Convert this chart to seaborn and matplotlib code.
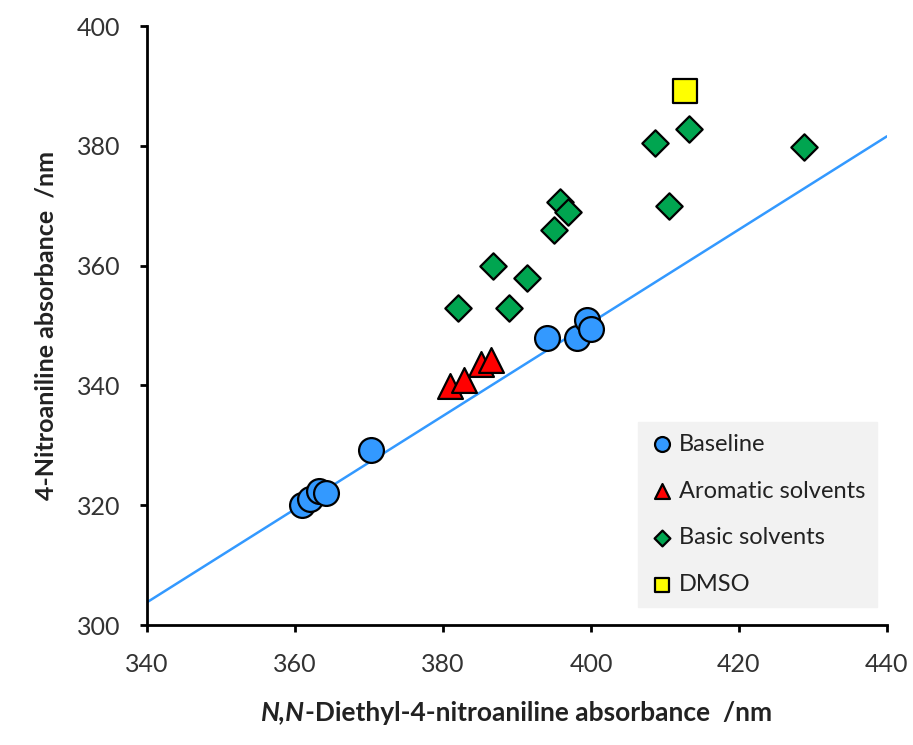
import matplotlib
matplotlib.use("Agg")
import matplotlib.pyplot as plt
import seaborn as sns
import pandas as pd
from matplotlib.offsetbox import TextArea, HPacker, AnchoredOffsetbox

# Data
baseline_x = [361.0, 362.0, 363.3, 364.2, 370.3, 394.1, 398.1, 399.5, 400.0]
baseline_y = [320.0, 321.0, 322.3, 322.0, 329.2, 347.9, 347.9, 350.9, 349.4]
aromatic_x = [381.0, 382.8, 385.1, 386.5]
aromatic_y = [339.9, 340.9, 343.6, 344.2]
basic_x = [382.0, 386.8, 388.9, 391.4, 395.0, 395.8, 396.9, 408.6, 410.5, 413.2, 428.8]
basic_y = [352.9, 359.9, 352.9, 357.9, 365.9, 370.6, 369.0, 380.5, 369.9, 382.8, 379.8]
dmso_x = [412.7]
dmso_y = [389.1]
fit_x = [340, 440]
fit_y = [303.8, 381.6]

groups = ["Baseline", "Aromatic solvents", "Basic solvents", "DMSO"]

df = pd.concat([
    pd.DataFrame({"x": baseline_x, "y": baseline_y, "group": groups[0]}),
    pd.DataFrame({"x": aromatic_x, "y": aromatic_y, "group": groups[1]}),
    pd.DataFrame({"x": basic_x, "y": basic_y, "group": groups[2]}),
    pd.DataFrame({"x": dmso_x, "y": dmso_y, "group": groups[3]}),
], ignore_index=True)

sns.set_style("white")
plt.rcParams['font.family'] = ['Lato', 'DejaVu Sans']

fig = plt.figure(figsize=(9.13, 7.45), dpi=100)
ax = fig.add_axes([0.161, 0.161, 0.8105, 0.804])

sns.lineplot(x=fit_x, y=fit_y, ax=ax, color="#3399ff", linewidth=1.8, zorder=1)

styles = {
    "Baseline": ("o", "#3399ff", 320),
    "Aromatic solvents": ("^", "#ff0000", 320),
    "Basic solvents": ("D", "#00a550", 180),
    "DMSO": ("s", "#ffff00", 320),
}
for g in groups:
    m, c, s = styles[g]
    sub = df[df["group"] == g]
    sns.scatterplot(data=sub, x="x", y="y", ax=ax, marker=m, color=c, s=s,
                    edgecolor="black", linewidth=1.6, label=g, zorder=3)

ax.set_xlim(340, 440)
ax.set_ylim(300, 400)
ax.set_xticks(range(340, 441, 20))
ax.set_yticks(range(300, 401, 20))
for sp in ["top", "right"]:
    ax.spines[sp].set_visible(False)
for sp in ["left", "bottom"]:
    ax.spines[sp].set_color("black")
    ax.spines[sp].set_linewidth(2)
ax.tick_params(axis="both", direction="out", length=5, width=2, color="black",
               labelsize=18, labelcolor="#333333", left=True, bottom=True)
ax.tick_params(axis="x", pad=15)
ax.tick_params(axis="y", pad=14)

ax.set_ylabel("4-Nitroaniline absorbance  /nm", fontsize=18, fontweight="bold",
              labelpad=14, color="#222222")
ax.set_xlabel("")

# x label with bold-italic N,N
parts = [
    TextArea("N,N", textprops=dict(fontsize=19, fontweight="bold", fontstyle="italic", color="#222222")),
    TextArea("-Diethyl-4-nitroaniline absorbance  /nm",
             textprops=dict(fontsize=19, fontweight="bold", color="#222222")),
]
box = HPacker(children=parts, align="baseline", pad=0, sep=0)
anchored = AnchoredOffsetbox(loc="upper center", child=box, frameon=False,
                             bbox_to_anchor=(0.5, -0.126), bbox_transform=ax.transAxes,
                             borderpad=0, pad=0)
ax.add_artist(anchored)

leg = ax.legend(loc="lower right", bbox_to_anchor=(1.003, 0.01), frameon=True,
                facecolor="#f2f2f2", edgecolor="#f2f2f2", fancybox=False,
                fontsize=17, markerscale=0.6, labelspacing=1.1, handletextpad=0.25,
                borderpad=0.5, handlelength=1.0, framealpha=1)
for t in leg.get_texts():
    t.set_color("#222222")

fig.savefig("out.png", dpi=100)
